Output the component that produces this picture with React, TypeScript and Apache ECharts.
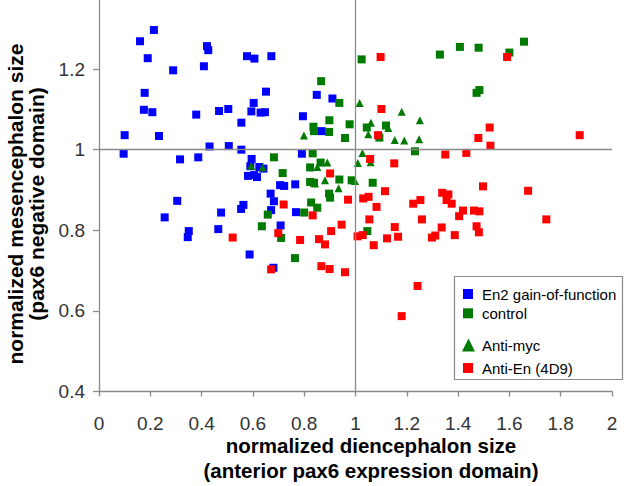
import React, { useEffect, useRef } from "react";
import * as echarts from "echarts";

const FONT = "'Liberation Sans', Arial, sans-serif";

const xTickLabels = [0, 0.2, 0.4, 0.6, 0.8, 1, 1.2, 1.4, 1.6, 1.8, 2];
const yTickLabels = [0.4, 0.6, 0.8, 1, 1.2];

const seriesNames = ["En2 gain-of-function", "control", "Anti-myc", "Anti-En (4D9)"];

const en2Gain: [number, number][] = [
  [0.214, 1.297], [0.16, 1.269], [0.19, 1.227], [0.289, 1.197], [0.421, 1.257],
  [0.426, 1.247], [0.409, 1.207], [0.577, 1.232], [0.606, 1.226], [0.672, 1.232],
  [0.178, 1.141], [0.175, 1.099], [0.208, 1.093], [0.379, 1.087], [0.468, 1.096],
  [0.504, 1.101], [0.555, 1.067], [0.594, 1.095], [0.603, 1.116], [0.63, 1.092],
  [0.647, 1.093], [0.651, 1.144], [0.1, 1.036], [0.234, 1.034], [0.096, 0.99],
  [0.431, 1.008], [0.506, 1.009], [0.555, 1.0], [0.316, 0.976], [0.387, 0.981],
  [0.595, 0.977], [0.59, 0.959], [0.625, 0.957], [0.641, 0.953], [0.581, 0.935],
  [0.605, 0.937], [0.616, 0.932], [0.305, 0.873], [0.256, 0.832], [0.476, 0.844],
  [0.554, 0.853], [0.563, 0.863], [0.669, 0.891], [0.682, 0.872], [0.671, 0.85],
  [0.35, 0.798], [0.346, 0.783], [0.465, 0.803], [0.587, 0.74], [0.68, 0.707],
  [0.849, 1.136], [0.91, 1.127], [0.795, 1.083], [0.868, 1.046], [0.791, 0.99],
  [0.706, 0.912], [0.722, 0.91], [0.765, 0.914], [0.768, 0.845], [0.708, 0.812],
];

const control: [number, number][] = [
  [1.024, 1.224], [1.329, 1.236], [1.407, 1.255], [1.48, 1.253], [1.6, 1.241],
  [1.657, 1.268], [1.472, 1.141], [1.483, 1.148], [0.866, 1.17], [0.937, 1.116],
  [0.898, 1.073], [0.836, 1.057], [0.838, 1.046], [0.897, 1.044], [0.977, 1.063],
  [0.959, 1.029], [1.044, 1.055], [1.119, 1.06], [1.093, 1.03], [1.232, 0.996],
  [0.833, 0.991], [0.682, 0.981], [0.823, 0.956], [0.864, 0.968], [0.716, 0.942],
  [0.823, 0.92], [0.838, 0.918], [0.937, 0.926], [0.985, 0.924], [1.067, 0.918],
  [0.897, 0.891], [0.901, 0.881], [0.827, 0.869], [0.851, 0.856], [0.8, 0.844],
  [0.658, 0.839], [0.635, 0.81], [0.71, 0.781], [1.046, 0.798], [0.764, 0.731],
];

const antiMyc: [number, number][] = [
  [0.593, 0.96], [0.638, 0.956], [1.016, 1.116], [1.18, 1.094], [1.251, 1.073],
  [0.799, 1.035], [1.06, 1.067], [1.05, 1.038], [1.128, 1.054], [1.153, 1.024],
  [1.19, 1.023], [1.248, 1.026], [1.027, 0.992], [0.851, 0.957], [0.89, 0.968],
  [1.009, 0.967], [1.059, 0.969], [0.881, 0.924], [0.842, 0.916], [0.998, 0.922],
  [0.934, 0.904],
];

const antiEn: [number, number][] = [
  [1.098, 1.23], [1.591, 1.23], [1.101, 1.101], [1.088, 1.036], [1.057, 0.977],
  [1.151, 0.966], [0.901, 0.941], [0.521, 0.782], [0.72, 0.864], [0.971, 0.876],
  [1.03, 0.879], [1.051, 0.883], [1.115, 0.897], [1.225, 0.866], [1.253, 0.875],
  [1.082, 0.858], [0.833, 0.837], [1.054, 0.827], [1.259, 0.827], [0.946, 0.814],
  [0.905, 0.798], [0.699, 0.793], [1.153, 0.808], [1.008, 0.785], [1.028, 0.788],
  [0.784, 0.776], [0.858, 0.778], [0.881, 0.765], [1.123, 0.78], [1.166, 0.784],
  [1.298, 0.782], [1.311, 0.787], [1.071, 0.763], [0.671, 0.703], [0.867, 0.711],
  [0.899, 0.704], [0.959, 0.696], [1.523, 1.055], [1.479, 1.029], [1.526, 1.01],
  [1.874, 1.036], [1.35, 0.988], [1.432, 0.992], [1.497, 0.909], [1.673, 0.898],
  [1.338, 0.893], [1.362, 0.889], [1.355, 0.875], [1.375, 0.866], [1.419, 0.849],
  [1.404, 0.835], [1.462, 0.849], [1.483, 0.847], [1.744, 0.827], [1.336, 0.807],
  [1.472, 0.81], [1.481, 0.795], [1.387, 0.788], [1.242, 0.662], [1.18, 0.587],
];

const BLUE = "#0000ff";
const GREEN = "#007a00";
const RED = "#ff0000";
const AXIS_GRAY = "#8a8a8a";

export default function App() {
  const ref = useRef<HTMLDivElement>(null);

  useEffect(() => {
    if (!ref.current) return;
    const chart = echarts.init(ref.current, undefined, { renderer: "svg" });

    const legendText = {
      fontSize: 15,
      lineHeight: 15,
      color: "#000",
      fontFamily: FONT,
    };

    const mkLegend = (name: string, top: number, icon: string, size: number, left: number, pad: number) => ({
      data: [name],
      orient: "vertical",
      left,
      top,
      padding: 0,
      icon,
      itemWidth: size,
      itemHeight: size,
      selectedMode: false,
      itemStyle: { opacity: 1 },
      textStyle: { ...legendText, padding: [0, 0, 0, pad] },
    });

    chart.setOption({
      animation: false,
      backgroundColor: "#fff",
      textStyle: { fontFamily: FONT },
      grid: { left: 99, right: 18, top: 0, bottom: 94.5, containLabel: false },
      xAxis: {
        type: "value",
        min: 0,
        max: 2,
        interval: 0.2,
        splitLine: { show: false },
        axisLine: { onZero: false, lineStyle: { color: AXIS_GRAY, width: 1.3 } },
        axisTick: { show: true, length: 5, lineStyle: { color: AXIS_GRAY, width: 1.3 } },
        axisLabel: {
          customValues: xTickLabels,
          fontSize: 19,
          lineHeight: 19,
          color: "#333",
          margin: 22,
          fontFamily: FONT,
        },
      },
      yAxis: {
        type: "value",
        min: 0.4,
        max: 1.3714,
        interval: 0.2,
        splitLine: { show: false },
        axisLine: { onZero: false, lineStyle: { color: AXIS_GRAY, width: 1.3 } },
        axisTick: { show: true, length: 6, customValues: yTickLabels, lineStyle: { color: AXIS_GRAY, width: 1.3 } },
        axisLabel: {
          customValues: yTickLabels,
          fontSize: 19,
          color: "#333",
          margin: 14,
          fontFamily: FONT,
        },
      },
      legend: [
        mkLegend(seriesNames[0], 286.5, "rect", 10, 463, 4),
        mkLegend(seriesNames[1], 305.8, "rect", 10, 463, 4),
        mkLegend(seriesNames[2], 337.5, "triangle", 13, 462, 2),
        mkLegend(seriesNames[3], 360.5, "rect", 10, 463, 4),
      ],
      graphic: [
        {
          type: "rect",
          shape: { x: 454.5, y: 276.5, width: 168, height: 103 },
          style: { fill: "none", stroke: AXIS_GRAY, lineWidth: 1.2 },
          silent: true,
        },
        {
          type: "text",
          x: 371,
          y: 458,
          style: {
            text: "normalized diencephalon size\n(anterior pax6 expression domain)",
            fontSize: 20.5,
            fontWeight: "bold",
            fontFamily: FONT,
            lineHeight: 24.3,
            fill: "#000",
            align: "center",
            verticalAlign: "middle",
          },
        },
        {
          type: "text",
          x: 26,
          y: 204,
          rotation: Math.PI / 2,
          style: {
            text: "normalized mesencephalon size\n(pax6 negative domain)",
            fontSize: 21,
            fontWeight: "bold",
            fontFamily: FONT,
            lineHeight: 21.5,
            fill: "#000",
            align: "center",
            verticalAlign: "middle",
          },
        },
      ],
      series: [
        {
          name: seriesNames[0],
          type: "scatter",
          symbol: "rect",
          symbolSize: 8,
          itemStyle: { color: BLUE, opacity: 1 },
          data: en2Gain,
          markLine: {
            silent: true,
            symbol: ["none", "none"],
            label: { show: false },
            lineStyle: { color: AXIS_GRAY, width: 1.3, type: "solid", opacity: 1 },
            data: [{ xAxis: 1 }, { yAxis: 1 }],
          },
        },
        {
          name: seriesNames[1],
          type: "scatter",
          symbol: "rect",
          symbolSize: 8,
          itemStyle: { color: GREEN, opacity: 1 },
          data: control,
        },
        {
          name: seriesNames[2],
          type: "scatter",
          symbol: "triangle",
          symbolSize: 8,
          itemStyle: { color: GREEN, opacity: 1 },
          data: antiMyc,
        },
        {
          name: seriesNames[3],
          type: "scatter",
          symbol: "rect",
          symbolSize: 8,
          itemStyle: { color: RED, opacity: 1 },
          data: antiEn,
        },
      ],
    });

    return () => chart.dispose();
  }, []);

  return (
    <div
      ref={ref}
      style={{ position: "absolute", left: 0, top: 0, width: 630, height: 486 }}
    />
  );
}
